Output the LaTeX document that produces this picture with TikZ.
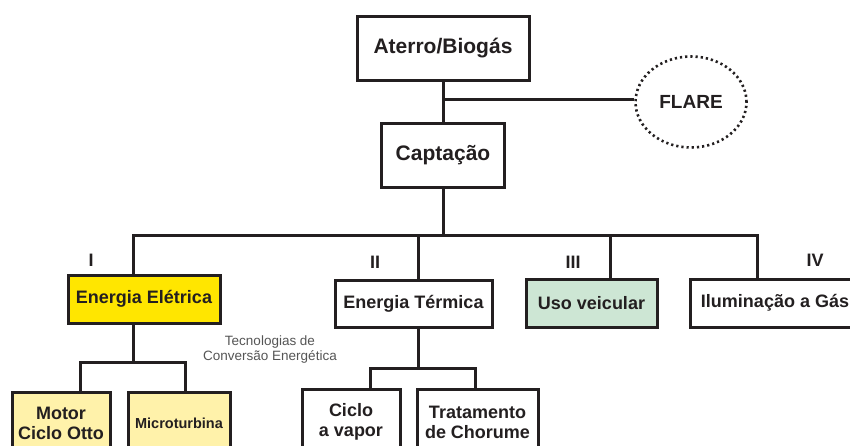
\documentclass[tikz,border=0pt]{standalone}
\usepackage{fontspec}
\setmainfont{Liberation Sans}
\usetikzlibrary{shapes.geometric}
\definecolor{ink}{RGB}{35,31,32}
\definecolor{eyellow}{RGB}{255,230,0}
\definecolor{lyellow}{RGB}{255,242,170}
\definecolor{lgreen}{RGB}{205,230,212}
\definecolor{txtgray}{RGB}{85,85,85}
\tikzset{
  box/.style={draw=ink, line width=3pt, rectangle, inner sep=0pt, align=center,
    text=ink, font=\fontsize{18}{20}\selectfont\bfseries},
  bigbox/.style={box, font=\fontsize{21}{24}\selectfont\bfseries},
  conn/.style={draw=ink, line width=3pt},
  roman/.style={text=ink, font=\fontsize{18}{20}\selectfont\bfseries, inner sep=0pt},
  note/.style={text=txtgray, font=\fontsize{13.5}{15}\selectfont, align=center, inner sep=0pt}
}
\begin{document}
\begin{tikzpicture}[x=1pt,y=-1pt]
\useasboundingbox (0,0) rectangle (850,445);
\fill[white] (0,0) rectangle (850,445);
\clip (0,0) rectangle (850,445);

% top
\node[bigbox, minimum width=172pt, minimum height=64pt] (ater) at (443,48) {Aterro/Biogás};
\node[bigbox, minimum width=123pt, minimum height=64pt] (capt) at (443,155) {Captação};
\node[ellipse, draw=ink, line width=2.6pt, dash pattern=on 2.2pt off 3pt,
      minimum width=111pt, minimum height=91pt, inner sep=0pt, text=ink,
      font=\fontsize{19}{21}\selectfont\bfseries] (flare) at (691,102) {FLARE};

\coordinate (fj) at (443,99);
\draw[conn] (ater.south) -- (capt.north);
\draw[conn] (fj) -- (flare.west |- fj);

% level 2
\node[box, fill=eyellow, minimum width=152pt, minimum height=48pt] (ee) at (144,299) {Energia Elétrica};
\node[box, minimum width=157pt, minimum height=47pt] (et) at (413.5,303.5) {Energia Térmica};
\node[box, fill=lgreen, minimum width=131pt, minimum height=48pt] (uv) at (591.5,303) {Uso veicular};
\node[box, minimum width=170pt, minimum height=48pt] (il) at (775,303) {Iluminação a Gás};

\coordinate (b1) at (133,235);
\coordinate (b2) at (418,235);
\coordinate (b3) at (610,235);
\coordinate (b4) at (757,235);
\draw[conn] (capt.south) -- (capt.south |- b1);
\draw[conn] (b1 |- ee.north) -- (b1) -- (b4) -- (b4 |- il.north);
\draw[conn] (b2) -- (b2 |- et.north);
\draw[conn] (b3) -- (b3 |- uv.north);

\node[roman] (r1) at (91,260) {I};
\node[roman] (r2) at (375,262) {II};
\node[roman] (r3) at (573,262) {III};
\node[roman] (r4) at (815,260) {IV};

% level 3 - electric
\node[box, fill=lyellow, minimum width=98pt, minimum height=62pt] (mot) at (61,423) {Motor\\Ciclo Otto};
\node[box, fill=lyellow, minimum width=102pt, minimum height=62pt,
      font=\fontsize{14.5}{17}\selectfont\bfseries] (mic) at (179,423) {Microturbina};
\coordinate (s1) at (133,362);
\coordinate (s1l) at (80,362);
\coordinate (s1r) at (185,362);
\draw[conn] (ee.south -| s1) -- (s1);
\draw[conn] (s1l |- mot.north) -- (s1l) -- (s1r) -- (s1r |- mic.north);

% level 3 - thermal
\node[box, minimum width=98pt, minimum height=66pt] (cic) at (351,422) {Ciclo\\a vapor};
\node[box, minimum width=121pt, minimum height=66pt] (tra) at (477.5,422) {Tratamento\\de Chorume};
\coordinate (s2) at (418,368);
\coordinate (s2l) at (370,368);
\coordinate (s2r) at (475,368);
\draw[conn] (et.south -| s2) -- (s2);
\draw[conn] (s2l |- cic.north) -- (s2l) -- (s2r) -- (s2r |- tra.north);

\node[note] (tec) at (270,350) {Tecnologias de\\Conversão Energética};
\end{tikzpicture}
\end{document}
